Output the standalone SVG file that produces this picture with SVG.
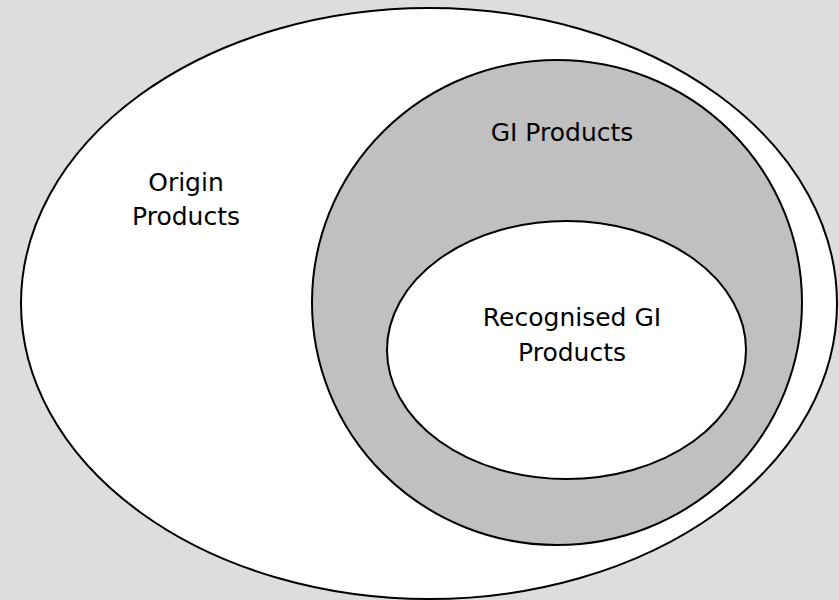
<svg xmlns="http://www.w3.org/2000/svg" width="839" height="600" viewBox="0 0 839 600">
<style>
.shape{stroke:#000;stroke-width:2}
.lbl{font-family:"DejaVu Sans",Verdana,sans-serif;font-size:25px;fill:#000;text-anchor:middle}
</style>
<rect x="0" y="0" width="839" height="600" fill="#dddddd"/>
<g id="origin">
<ellipse class="shape" cx="429" cy="303.5" rx="408" ry="295.5" fill="#ffffff"/>
<text class="lbl" x="186" y="191">Origin</text>
<text class="lbl" x="186" y="225">Products</text>
</g>
<g id="gi">
<ellipse class="shape" cx="557" cy="302.5" rx="245" ry="242.5" fill="#c0c0c0"/>
<text class="lbl" x="562" y="141">GI Products</text>
</g>
<g id="recognised">
<ellipse class="shape" cx="566.5" cy="350" rx="179.5" ry="129" fill="#ffffff"/>
<text class="lbl" x="572" y="326">Recognised GI</text>
<text class="lbl" x="572" y="361">Products</text>
</g>
<g id="connectors"/>
</svg>
